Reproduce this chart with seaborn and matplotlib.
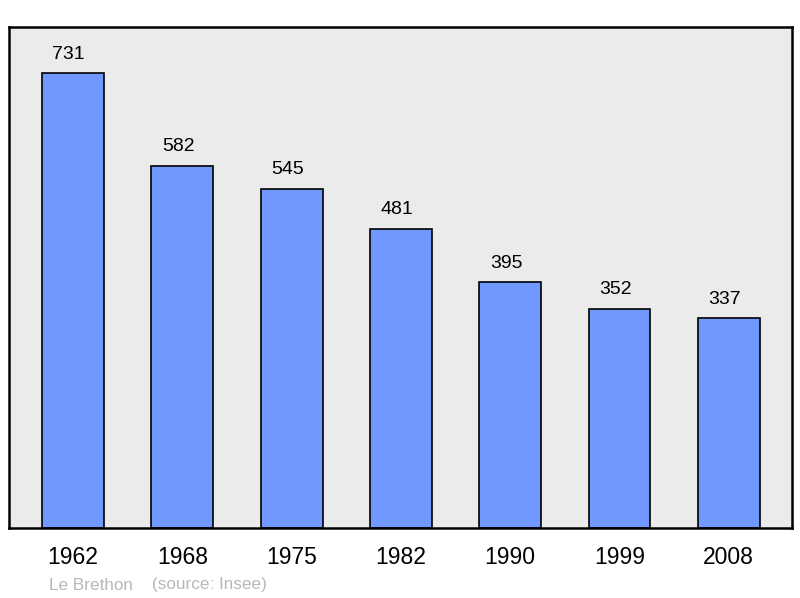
import matplotlib.pyplot as plt
import seaborn as sns
import pandas as pd

years = ['1962', '1968', '1975', '1982', '1990', '1999', '2008']
population = [731, 582, 545, 481, 395, 352, 337]

sns.set_theme(style='white')
plt.rcParams['font.family'] = ['Liberation Sans', 'DejaVu Sans']

df = pd.DataFrame({'year': years, 'pop': population})

fig = plt.figure(figsize=(8, 5.98), dpi=100)
ax = fig.add_axes([0.01125, 0.117, 0.979, 0.838])
ax.set_facecolor('#ebebeb')

sns.barplot(data=df, x='year', y='pop', color='#7098ff', saturation=1,
            width=0.567, edgecolor='black', linewidth=1.2, ax=ax)

# value labels sit a little left of the bar centre, like the original
for i, v in enumerate(population):
    ax.annotate(str(v), (i, v), xytext=(-3, 7.5), textcoords='offset points',
                ha='center', va='bottom', fontsize=14, color='black')

ax.set_xlim(-0.585, 6.58)
ax.set_ylim(0, 805)
ax.set_yticks([])
ax.set_xlabel('')
ax.set_ylabel('')
ax.tick_params(axis='x', length=0, pad=13, labelsize=16.5, colors='black')
for s in ax.spines.values():
    s.set_visible(True)
    s.set_color('black')
    s.set_linewidth(1.8)

fig.text(49 / 800, 1 - 585 / 598, 'Le Brethon', color='#b8b8b8', fontsize=12.3, va='center')
fig.text(152 / 800, 1 - 585 / 598, '(source: Insee)', color='#b8b8b8', fontsize=12.3, va='center')

fig.savefig('out.png', dpi=100)
